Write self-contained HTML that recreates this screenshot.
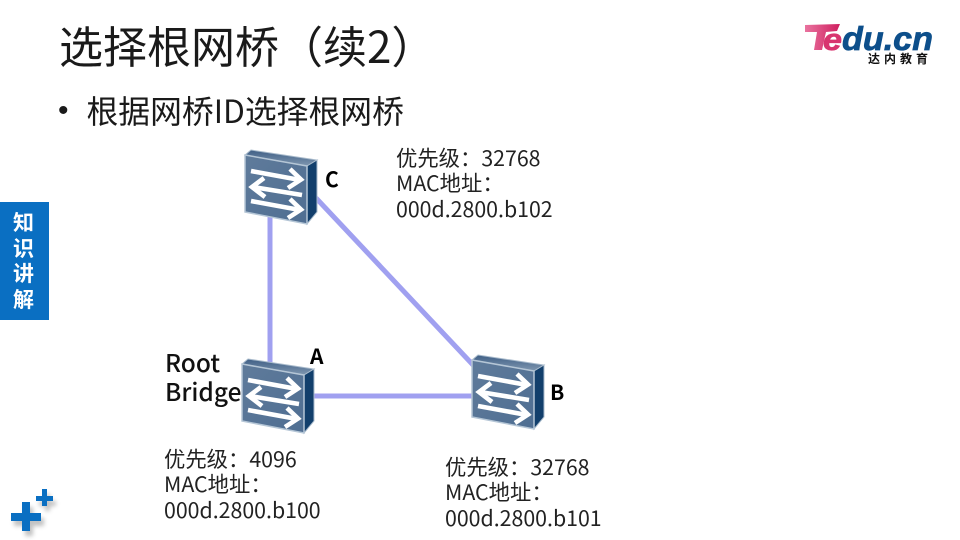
<!DOCTYPE html>
<html lang="zh">
<head>
<meta charset="utf-8">
<style>
html,body{margin:0;padding:0;background:#fff;}
#s{position:relative;width:960px;height:540px;overflow:hidden;background:#fff;font-family:"Noto Sans CJK SC","Liberation Sans",sans-serif;color:#000;}
.t{position:absolute;white-space:nowrap;}
.info{font-size:21.33px;line-height:25.5px;color:#222;}
.lab{font-size:21px;line-height:22px;font-weight:bold;}
svg{position:absolute;left:0;top:0;}
</style>
</head>
<body>
<div id="s">
<svg width="960" height="540" viewBox="0 0 960 540">
<defs>
<linearGradient id="top" x1="0" y1="0" x2="0" y2="1"><stop offset="0" stop-color="#3f5f86"/><stop offset="1" stop-color="#7f97b0"/></linearGradient>
<linearGradient id="front" x1="0" y1="0" x2="1" y2="1"><stop offset="0" stop-color="#5f7b9b"/><stop offset="1" stop-color="#4f6e92"/></linearGradient>
<linearGradient id="pk" x1="0" y1="0" x2="1" y2="0"><stop offset="0" stop-color="#e9739f"/><stop offset="1" stop-color="#cf1f5f"/></linearGradient>
<symbol id="sw" width="76" height="80" viewBox="0 0 76 80" overflow="visible">
<path d="M1 6 L7 1 L73 11 L63 17 Z" fill="url(#top)" stroke="#a9bbcc" stroke-width="1"/>
<path d="M63 17 L73 11 L73 63 L63 75 Z" fill="#123f6c" stroke="#a9bbcc" stroke-width="1"/>
<path d="M1 6 L63 17 L63 75 L1 63 Z" fill="url(#front)" stroke="#b5c6d6" stroke-width="1.5"/>
<g fill="none" stroke="#fff" stroke-width="4.6" stroke-linejoin="miter" stroke-miterlimit="6">
<path d="M7 22 L56 31"/><path d="M46 20 L57 30.5 L44 39"/>
<path d="M58 46 L9 38"/><path d="M20 29 L8 38 L21 48"/>
<path d="M7 52 L56 61"/><path d="M46 50 L57 60.5 L44 69"/>
</g>
</symbol>
<filter id="sh" x="-30%" y="-30%" width="170%" height="170%"><feGaussianBlur stdDeviation="2.2"/></filter>
</defs>

<!-- connectors -->
<g stroke="#a0a0f0" stroke-width="5" fill="none">
<line x1="270" y1="215" x2="270" y2="366"/>
<line x1="313" y1="396" x2="474" y2="396"/>
<line x1="316" y1="198" x2="474" y2="366"/>
</g>

<!-- switches -->
<use href="#sw" x="244" y="149"/>
<use href="#sw" x="241" y="358" />
<use href="#sw" x="471" y="354" />

<!-- plus icon -->
<g fill="#777" opacity=".45" filter="url(#sh)">
<rect x="14" y="518" width="30" height="8"/><rect x="25" y="507" width="8" height="29"/>
<rect x="39" y="501" width="17" height="5"/><rect x="45" y="494" width="5" height="17"/>
</g>
<g fill="#0a6fc2">
<rect x="11" y="513" width="30" height="8"/><rect x="22" y="502" width="8" height="29"/>
<rect x="36" y="496" width="17" height="5"/><rect x="42" y="489" width="5" height="17"/>
</g>

<!-- logo -->
<path d="M805 25 L840 24 L837 31 L826 32 L822 50 L814 50 L817 32 L805 32 Z" fill="url(#pk)"/>
<text x="823" y="50" font-family="Liberation Sans" font-size="31" font-weight="bold" font-style="italic" fill="#d8356f" stroke="#d8356f" stroke-width=".7" textLength="19" lengthAdjust="spacingAndGlyphs">e</text>
<text x="842" y="50" font-family="Liberation Sans" font-size="33" font-weight="bold" font-style="italic" fill="#0d4f8b" stroke="#0d4f8b" stroke-width=".7" textLength="91" lengthAdjust="spacingAndGlyphs">du.cn</text>
</svg>

<div class="t" style="left:59px;top:18px;font-size:44px;line-height:52px;color:#1a1a1a;">选择根网桥（续2）</div>
<div class="t" style="left:58px;top:92px;font-size:30px;line-height:38px;color:#1a1a1a;font-family:'Liberation Sans',sans-serif;">•</div>
<div class="t" style="left:86.5px;top:91px;font-size:31.8px;line-height:38px;color:#1a1a1a;">根据网桥ID选择根网桥</div>

<div class="t" style="left:868px;top:52px;font-size:12px;line-height:13px;font-weight:bold;letter-spacing:4px;color:#111;">达内教育</div>

<div class="t" style="left:0;top:202px;width:49px;height:118px;background:#0a6fc2;"></div>
<div class="t" style="left:0;top:210px;width:47px;text-align:center;font-size:21px;line-height:25.6px;font-weight:bold;color:#fff;white-space:normal;">知<br>识<br>讲<br>解</div>

<div class="t info" style="left:396px;top:144.5px;">优先级：32768<br>MAC地址：<br>000d.2800.b102</div>
<div class="t info" style="left:164px;top:445.5px;">优先级：4096<br>MAC地址：<br>000d.2800.b100</div>
<div class="t info" style="left:445px;top:453.5px;">优先级：32768<br>MAC地址：<br>000d.2800.b101</div>

<div class="t" style="left:165px;top:348px;font-size:24.5px;line-height:29px;font-weight:500;color:#111;">Root<br>Bridge</div>

<div class="t lab" style="left:325px;top:168px;">C</div>
<div class="t lab" style="left:310px;top:345px;">A</div>
<div class="t lab" style="left:550px;top:381px;">B</div>
</div>
</body>
</html>
